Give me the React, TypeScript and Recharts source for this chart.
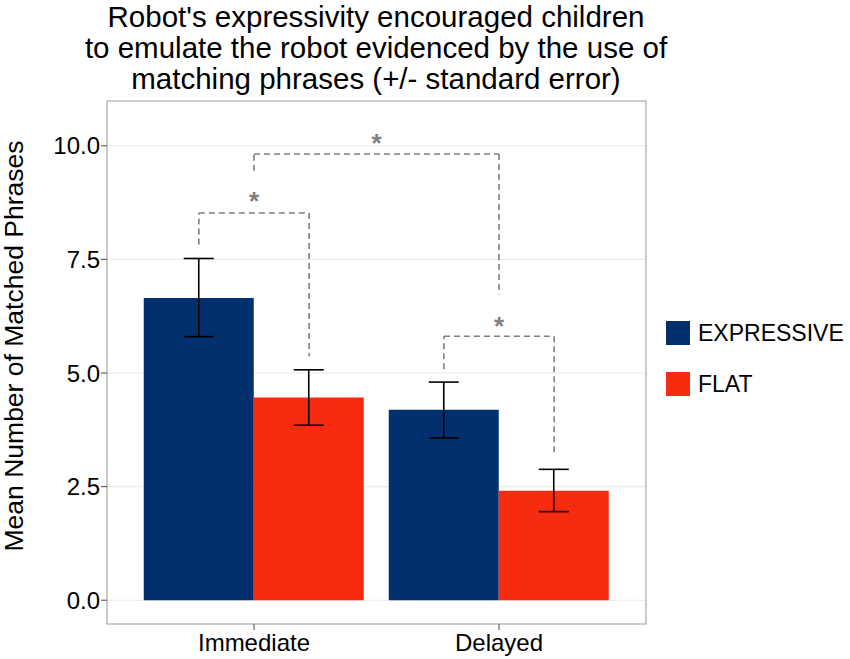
import React from 'react';
import {
  ComposedChart, Bar, XAxis, YAxis, CartesianGrid, ErrorBar, ReferenceLine,
  ReferenceDot, ReferenceArea, Legend,
} from 'recharts';

const phases = ['Immediate', 'Delayed'];
const phaseSlot = [0.6, 1.6];
const expressiveMean = [6.65, 4.19];
const expressiveLow = [5.8, 3.57];
const expressiveHigh = [7.52, 4.8];
const flatMean = [4.46, 2.41];
const flatLow = [3.85, 1.95];
const flatHigh = [5.07, 2.88];
const yTicks = [0, 2.5, 5, 7.5, 10];

// significance brackets, x in slot units of the hidden numeric axis (0..2.2)
const bracketLeftX = [0.375, 0.6, 1.375];
const bracketRightX = [0.825, 1.6, 1.825];
const bracketLeftY = [7.83, 9.45, 5.08];
const bracketTopY = [8.52, 9.82, 5.81];
const bracketRightY = [5.37, 6.73, 3.21];
const starY = [8.89, 10.16, 6.15];

const NAVY = '#02306f';
const RED = '#f72b10';
const FONT = '"Liberation Sans", Arial, Helvetica, sans-serif';

const data = phases.map((phase, i) => ({
  phase,
  slot: phaseSlot[i],
  expressive: expressiveMean[i],
  flat: flatMean[i],
  errExpressive: [expressiveMean[i] - expressiveLow[i], expressiveHigh[i] - expressiveMean[i]],
  errFlat: [flatMean[i] - flatLow[i], flatHigh[i] - flatMean[i]],
}));

const segments = bracketLeftX.flatMap((lx, i) => [
  [{ x: lx, y: bracketLeftY[i] }, { x: lx, y: bracketTopY[i] }],
  [{ x: lx, y: bracketTopY[i] }, { x: bracketRightX[i], y: bracketTopY[i] }],
  [{ x: bracketRightX[i], y: bracketTopY[i] }, { x: bracketRightX[i], y: bracketRightY[i] }],
]);

const Star = (props: any) => (
  <text x={props.cx} y={props.cy + 14} textAnchor="middle" fontSize={26} fontWeight="bold"
    fill="#7f7f7f" fontFamily={FONT}>*</text>
);

const LegendBox = () => (
  <div style={{ fontFamily: FONT, fontSize: 23, color: '#000' }}>
    {[{ name: 'EXPRESSIVE', color: NAVY }, { name: 'FLAT', color: RED }].map((it) => (
      <div key={it.name} style={{ display: 'flex', alignItems: 'center', height: 24, marginBottom: 27 }}>
        <div style={{ width: 24, height: 24, background: it.color, marginRight: 8 }} />
        <span>{it.name}</span>
      </div>
    ))}
  </div>
);

export default function App() {
  return (
    <div style={{ position: 'absolute', left: 0, top: 0, width: 850, height: 659, background: '#fff' }}>
      <ComposedChart width={850} height={659} data={data}
        margin={{ top: 101, right: 204, bottom: 0, left: 0 }}
        barCategoryGap="5%" barGap={0}>
        <CartesianGrid vertical={false} stroke="#ebebeb" strokeWidth={1.2} />
        <XAxis dataKey="phase" padding={{ left: 24.5, right: 24.5 }} height={35}
          axisLine={false} tickSize={6} tickMargin={4}
          tickLine={{ stroke: '#666', strokeWidth: 1.2 }}
          tick={{ fontSize: 24, fill: '#000', fontFamily: FONT }} />
        <XAxis xAxisId="num" dataKey="slot" type="number" scale="linear" domain={[0, 2.2]}
          allowDataOverflow hide height={0} />
        <YAxis width={107} domain={[-0.523, 10.985]} allowDataOverflow ticks={yTicks}
          tickFormatter={(v: number) => v.toFixed(1)} axisLine={false} tickSize={6} tickMargin={1}
          tickLine={{ stroke: '#666', strokeWidth: 1.2 }}
          tick={{ fontSize: 24, fill: '#000', fontFamily: FONT }} />
        <Bar dataKey="expressive" fill={NAVY} isAnimationActive={false}>
          <ErrorBar dataKey="errExpressive" width={15} stroke="#000" strokeWidth={1.6} direction="y" />
        </Bar>
        <Bar dataKey="flat" fill={RED} isAnimationActive={false}>
          <ErrorBar dataKey="errFlat" width={15} stroke="#000" strokeWidth={1.6} direction="y" />
        </Bar>
        {segments.map((seg, i) => (
          <ReferenceLine key={i} xAxisId="num" segment={seg} stroke="#7f7f7f" strokeWidth={1.6}
            strokeDasharray="6 4" ifOverflow="visible" />
        ))}
        {bracketLeftX.map((lx, i) => (
          <ReferenceDot key={'s' + i} xAxisId="num" x={(lx + bracketRightX[i]) / 2} y={starY[i]}
            r={0} shape={Star} ifOverflow="visible" />
        ))}
        <ReferenceArea xAxisId="num" x1={0} x2={2.2} y1={-0.523} y2={10.985} fill="none"
          fillOpacity={0} stroke="#a8a8a8" strokeWidth={1.2} ifOverflow="visible" />
        <Legend layout="vertical" align="center" verticalAlign="middle" content={<LegendBox />}
          wrapperStyle={{ left: 666, top: 321, width: 184, height: 80 }} />
      </ComposedChart>
      <svg width={850} height={659} style={{ position: 'absolute', left: 0, top: 0, pointerEvents: 'none' }}
        fontFamily={FONT}>
        <text x={376} textAnchor="middle" fontSize={29.5} fill="#000">
          <tspan x={376} y={27}>Robot's expressivity encouraged children</tspan>
          <tspan x={376} y={58}>to emulate the robot evidenced by the use of</tspan>
          <tspan x={376} y={89}>matching phrases (+/- standard error)</tspan>
        </text>
        <text x={23} y={346} textAnchor="middle" fontSize={26.5} fill="#000"
          transform="rotate(-90, 23, 346)">Mean Number of Matched Phrases</text>
      </svg>
    </div>
  );
}
